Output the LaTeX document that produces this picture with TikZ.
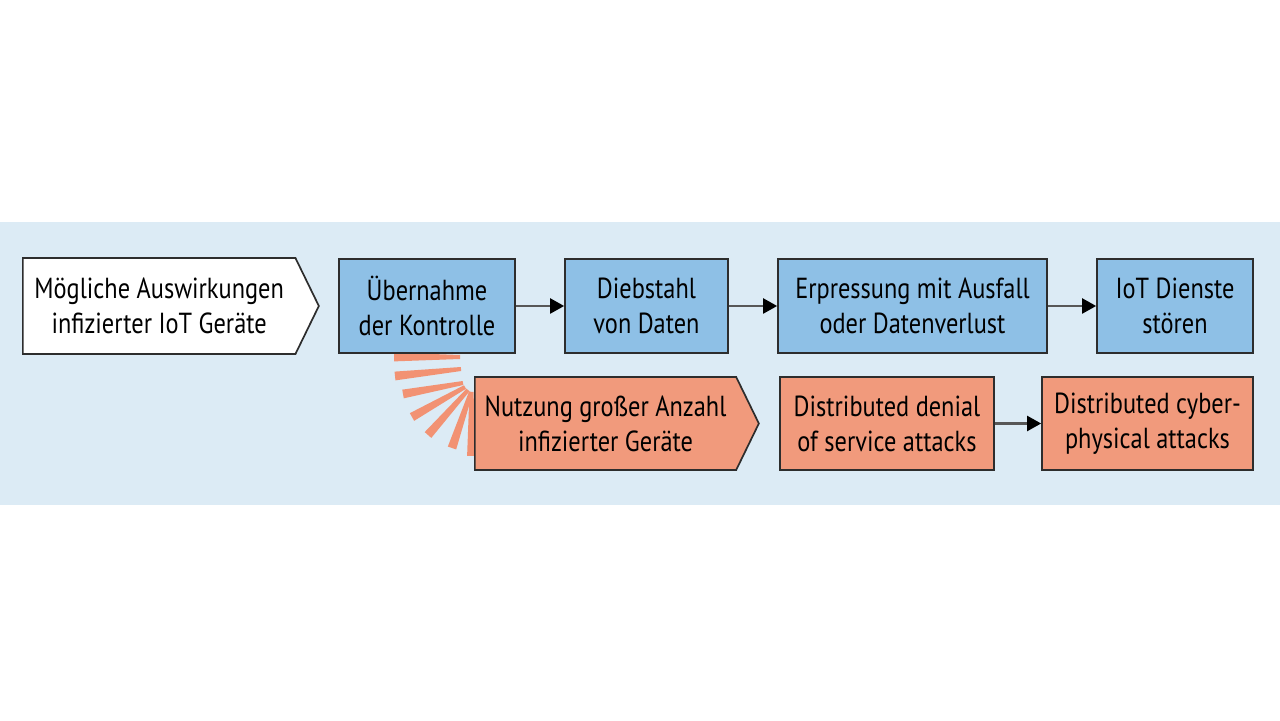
\documentclass[tikz,border=0pt]{standalone}
\usepackage{fontspec}
\setmainfont[FakeStretch=0.84]{PT Sans}
\usetikzlibrary{shapes.symbols,arrows.meta,calc}
\definecolor{hgblau}{RGB}{220,235,245}
\definecolor{kblau}{RGB}{142,192,230}
\definecolor{krot}{RGB}{241,154,124}
\definecolor{fanrot}{RGB}{242,146,115}
\definecolor{rand}{RGB}{45,45,45}
\tikzset{
kasten/.style={draw=rand,line width=0.85pt,align=center,inner sep=0pt,
  font=\fontsize{14.5}{17.5}\selectfont},
blaubox/.style={kasten,fill=kblau,minimum height=47pt},
rotbox/.style={kasten,fill=krot,minimum height=46.5pt},
spitze/.style={signal,signal to=east,signal pointer angle=128,anchor=west},
verb/.style={draw=rand!80,line width=1.1pt,-{Triangle[length=7pt,width=7.5pt,black]}}
}
\begin{document}
\begin{tikzpicture}[x=0.5pt,y=-0.5pt]
\useasboundingbox (0,0) rectangle (1280,721);
%фон
\fill[hgblau] (0,222) rectangle (1280,505);
%лучи
\foreach \xa/\ya/\xb/\yb in {394/357/460/357,395/376/461/369,403/394/463/383,
  412/417/465/387,428/435/468/390,452/448/471/392,471.5/456/471.5/392}
\fill[fanrot] ($(\xa,\ya)!2.2pt!90:(\xb,\yb)$)--($(\xa,\ya)!2.2pt!-90:(\xb,\yb)$)
  --($(\xb,\yb)!1pt!90:(\xa,\ya)$)--($(\xb,\yb)!1pt!-90:(\xa,\ya)$)--cycle;
%верхний ряд
\node[kasten,spitze,fill=white,minimum width=148pt,minimum height=48pt]
(start) at (22,306) {Mögliche Auswirkungen\\infizierter IoT Geräte};
\node[blaubox,minimum width=88pt] (uber) at (427,306) {Übernahme\\der Kontrolle};
\node[blaubox,minimum width=81.5pt] (dieb) at (646.5,306) {Diebstahl\\von Daten};
\node[blaubox,minimum width=134.5pt] (erpr) at (912.5,306) {Erpressung mit Ausfall\\oder Datenverlust};
\node[blaubox,minimum width=78pt] (iot) at (1175,306) {IoT Dienste\\stören};
%нижний ряд
\node[rotbox,spitze,minimum width=142pt] (nutz) at (474,423.5) {Nutzung großer Anzahl\\infizierter Geräte};
\node[rotbox,minimum width=107pt] (ddos) at (887,423.5) {Distributed denial\\of service attacks};
\node[rotbox,minimum width=105.5pt] (cps) at (1147.5,423.5) {Distributed cyber-\\physical attacks};
%стрелки
\draw[verb] (uber)--(dieb);
\draw[verb] (dieb)--(erpr);
\draw[verb] (erpr)--(iot);
\draw[verb] (ddos)--(cps);
\end{tikzpicture}
\end{document}
